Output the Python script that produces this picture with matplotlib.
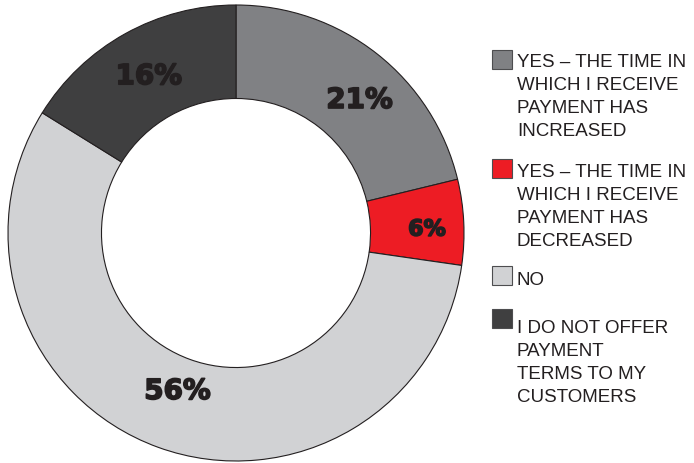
import matplotlib
matplotlib.use("Agg")
import matplotlib.pyplot as plt
import matplotlib.patheffects as pe
from matplotlib.patches import Rectangle
import numpy as np

# survey answers, clockwise from 12 o'clock
shares = [21, 6, 56, 16]
colours = ["#808184", "#ed1c24", "#d1d2d4", "#3f3f40"]
legend_labels = [
    "YES \u2013 THE TIME IN\nWHICH I RECEIVE\nPAYMENT HAS\nINCREASED",
    "YES \u2013 THE TIME IN\nWHICH I RECEIVE\nPAYMENT HAS\nDECREASED",
    "NO",
    "I DO NOT OFFER\nPAYMENT\nTERMS TO MY\nCUSTOMERS",
]

# label placement tweaks: (angle shift in degrees, radius, font size)
label_style = [(-4.7, 0.796, 20), (-1.7, 0.838, 16), (-0.3, 0.739, 20), (0.0, 0.787, 20)]

W, H = 694, 464
fig = plt.figure(figsize=(W / 100, H / 100), dpi=100)

# ring placed by pixel centre / radius
cx, cy, R = 236, 234, 228
pad = 1.02
side = 2 * R * pad
ax = fig.add_axes([(cx - side / 2) / W, (H - cy - side / 2) / H, side / W, side / H])
wedges, _ = ax.pie(shares, colors=colours, startangle=90, counterclock=False,
                   radius=1.0,
                   wedgeprops=dict(width=0.41, edgecolor="#231f20", linewidth=0.8))
ax.set_xlim(-pad, pad)
ax.set_ylim(-pad, pad)
ax.set_aspect("equal")

# percentage inside each band
for w, v, (shift, r, fs) in zip(wedges, shares, label_style):
    mid = np.deg2rad((w.theta1 + w.theta2) / 2 + shift)
    ax.text(r * np.cos(mid), r * np.sin(mid), f"{v}%", ha="center", va="center",
            fontsize=fs, fontweight="bold", family="DejaVu Sans", color="#231f20",
            path_effects=[pe.withStroke(linewidth=1.2, foreground="#231f20")])

# hand-built legend, swatch beside the first line of each entry
def px(x, y):
    return x / W, (H - y) / H

swatch_tops = [51, 160, 267, 310]
first_baselines = [67, 177, 285, 333]
line_step = 23
for top, base, lab, col in zip(swatch_tops, first_baselines, legend_labels, colours):
    x0, y0 = px(492, top + 19)
    fig.patches.append(Rectangle((x0, y0), 20 / W, 19 / H, transform=fig.transFigure,
                                 facecolor=col, edgecolor="#4d4d4f", linewidth=0.8))
    for i, line in enumerate(lab.split("\n")):
        tx, ty = px(517, base + i * line_step)
        fig.text(tx, ty, line, ha="left", va="baseline", fontsize=13.5,
                 family=["Liberation Sans"], color="#231f20")

fig.savefig("out.png", dpi=100, facecolor="white")
